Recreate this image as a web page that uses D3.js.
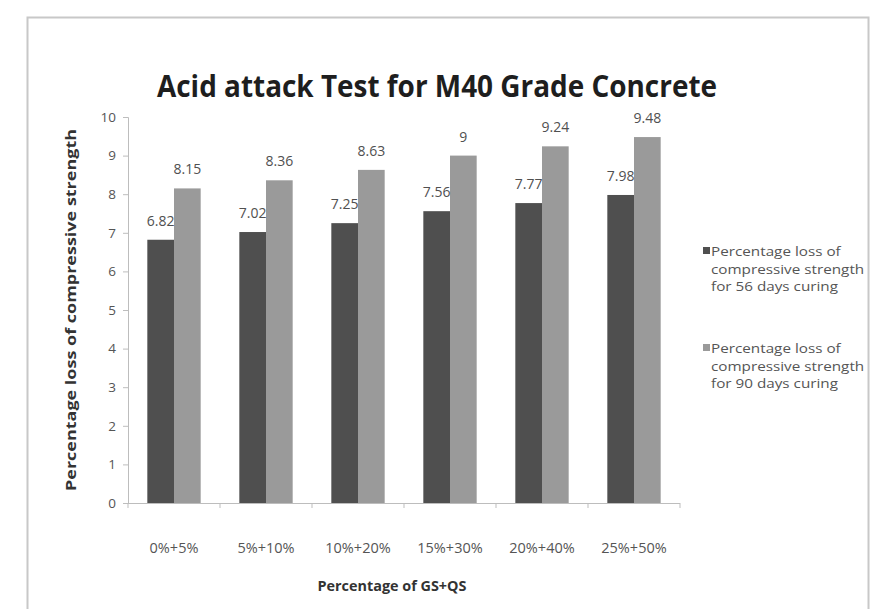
<!DOCTYPE html>
<html>
<head>
<meta charset="utf-8">
<script src="https://cdn.jsdelivr.net/npm/d3@7"></script>
<style>
  html, body { margin: 0; padding: 0; background: #ffffff; }
  svg { display: block; }
  text { font-family: "Open Sans", "Liberation Sans", sans-serif; }
</style>
</head>
<body>
<svg id="chart" width="872" height="609"></svg>
<script>
// Mix proportions of GS+QS
const categories = ["0%+5%", "5%+10%", "10%+20%", "15%+30%", "20%+40%", "25%+50%"];
// Percentage loss of compressive strength
const loss56 = [6.82, 7.02, 7.25, 7.56, 7.77, 7.98];
const loss90 = [8.15, 8.36, 8.63, 9, 9.24, 9.48];
const seriesNames = [
  ["Percentage loss of", "compressive strength", "for 56 days curing"],
  ["Percentage loss of", "compressive strength", "for 90 days curing"]
];
const yTicks = [0, 1, 2, 3, 4, 5, 6, 7, 8, 9, 10];

const colors = ["#4f4f4f", "#9a9a9a"];
const series = [loss56, loss90];

const svg = d3.select("#chart");

// outer chart frame
svg.append("rect")
  .attr("x", 27.5).attr("y", 17.5)
  .attr("width", 841).attr("height", 620)
  .attr("fill", "none").attr("stroke", "#c8c8c8").attr("stroke-width", 2);

const plot = { left: 128, right: 680, top: 117, bottom: 503 };

const y = d3.scaleLinear().domain([0, 10]).range([plot.bottom, plot.top]);
const x0 = d3.scaleBand().domain(categories)
  .range([plot.left, plot.right]).paddingInner(0.42).paddingOuter(0.21);
const x1 = d3.scaleBand().domain([0, 1]).range([0, x0.bandwidth()]);

// title (narrowed to a condensed look)
svg.append("text")
  .attr("x", 437).attr("y", 97)
  .attr("text-anchor", "middle")
  .attr("font-size", 30).attr("font-weight", "bold")
  .attr("fill", "#1e1e1e")
  .attr("textLength", 560).attr("lengthAdjust", "spacingAndGlyphs")
  .text("Acid attack Test for M40 Grade Concrete");

// y axis
const yAxis = d3.axisLeft(y).tickValues(yTicks).tickSize(5).tickPadding(7).tickFormat(d3.format("d"));
const gy = svg.append("g").attr("transform", `translate(${plot.left},0)`).call(yAxis);
gy.select(".domain").attr("stroke", "#bdbdbd");
gy.selectAll(".tick line").attr("stroke", "#bdbdbd");
gy.selectAll(".tick text").attr("font-size", 13.5).attr("fill", "#555")
  .style("font-family", "'Open Sans', sans-serif");

// bars
const groups = svg.append("g").selectAll("g")
  .data(categories)
  .join("g")
  .attr("transform", d => `translate(${x0(d)},0)`);

groups.selectAll("rect")
  .data((d, i) => series.map((s, k) => ({ k, v: s[i] })))
  .join("rect")
  .attr("x", d => x1(d.k))
  .attr("y", d => y(d.v))
  .attr("width", x1.bandwidth())
  .attr("height", d => y(0) - y(d.v))
  .attr("fill", d => colors[d.k]);

// value labels
groups.selectAll("text")
  .data((d, i) => series.map((s, k) => ({ k, v: s[i] })))
  .join("text")
  .attr("x", d => x1(d.k) + x1.bandwidth() / 2)
  .attr("y", d => y(d.v) - 14)
  .attr("text-anchor", "middle")
  .attr("font-size", 14).attr("fill", "#505050")
  .text(d => d.v);

// x axis line with category separators
const step = x0.step();
const gx = svg.append("g");
gx.append("line")
  .attr("x1", plot.left).attr("x2", plot.right)
  .attr("y1", plot.bottom + 0.5).attr("y2", plot.bottom + 0.5)
  .attr("stroke", "#bdbdbd");
const boundaries = d3.range(categories.length + 1).map(i => x0(categories[0]) - x0.paddingOuter() * step + i * step);
gx.selectAll("line.sep")
  .data(boundaries)
  .join("line").attr("class", "sep")
  .attr("x1", d => d).attr("x2", d => d)
  .attr("y1", plot.bottom).attr("y2", plot.bottom + 5)
  .attr("stroke", "#bdbdbd");
gx.selectAll("text")
  .data(categories)
  .join("text")
  .attr("x", d => x0(d) + x0.bandwidth() / 2)
  .attr("y", 553)
  .attr("text-anchor", "middle")
  .attr("font-size", 14.5).attr("fill", "#555")
  .text(d => d);

// axis titles
svg.append("text")
  .attr("x", 392).attr("y", 591)
  .attr("text-anchor", "middle")
  .attr("font-size", 15).attr("font-weight", "bold").attr("fill", "#333")
  .attr("textLength", 149).attr("lengthAdjust", "spacingAndGlyphs")
  .text("Percentage of GS+QS");

svg.append("text")
  .attr("transform", "translate(76,310) rotate(-90)")
  .attr("text-anchor", "middle")
  .attr("font-size", 15).attr("font-weight", "bold").attr("fill", "#333")
  .attr("textLength", 362).attr("lengthAdjust", "spacingAndGlyphs")
  .text("Percentage loss of compressive strength");

// legend: three lines per entry, widened slightly
const legend = svg.append("g");
const legendTop = [256, 353];
seriesNames.forEach((lines, k) => {
  legend.append("rect")
    .attr("x", 703).attr("y", legendTop[k] - 9)
    .attr("width", 7).attr("height", 7)
    .attr("fill", colors[k]);
  lines.forEach((line, j) => {
    const t = legend.append("text")
      .attr("x", 711).attr("y", legendTop[k] + j * 17.5)
      .attr("font-size", 12.5).attr("fill", "#555")
      .text(line);
    const w = t.node().getComputedTextLength();
    t.attr("textLength", w * 1.22).attr("lengthAdjust", "spacingAndGlyphs");
  });
});
</script>
</body>
</html>
